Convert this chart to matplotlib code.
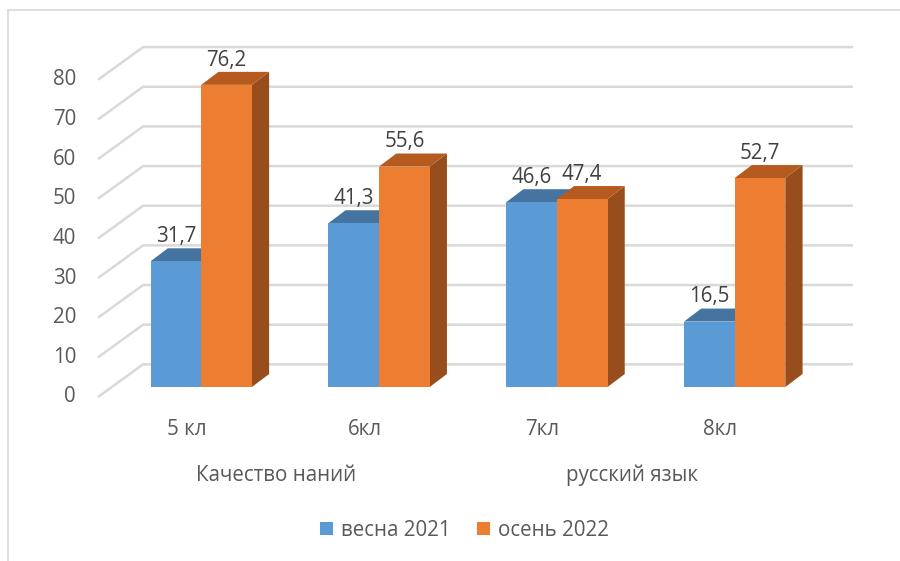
import matplotlib
matplotlib.use("Agg")
import matplotlib.pyplot as plt
from matplotlib.patches import Polygon, Patch
from matplotlib.lines import Line2D

plt.rcParams['font.family'] = ['Open Sans', 'DejaVu Sans']

# data
classes = ['5 кл', '6кл', '7кл', '8кл']
groups = ['Качество наний', 'русский язык']
series = ['весна 2021', 'осень 2022']
spring = [31.7, 41.3, 46.6, 16.5]
autumn = [76.2, 55.6, 47.4, 52.7]
yticks = [0, 10, 20, 30, 40, 50, 60, 70, 80]

front_c = ['#5B9BD5', '#ED7D31']
top_c = ['#4574A1', '#B65B20']
side_c = ['#3E6891', '#984D1C']
grid_c = '#D9D9D9'
tick_c = '#595959'
val_c = '#404040'
FS = 14.8

W = 0.285          # bar width (category units)
BDX, BDY = 0.097, 3.28    # bar depth offset
WDX, WDY = 0.253, 8.24    # wall depth offset
WALL_X = -0.58
WALL_END = 3.666
FRONT = -2.52      # front plane level relative to bar front

fig = plt.figure(figsize=(9, 5.61), dpi=100)
ax = fig.add_axes([0, 0, 1, 1])
ax.set_xlim(-1.1316, 3.930)
ax.set_ylim(-43.88, 97.6)
ax.axis('off')

# chart frame
fig.add_artist(Line2D([8/900, 8/900], [0, 1-10/561], transform=fig.transFigure,
                      color='#D9D9D9', lw=1.2))
fig.add_artist(Line2D([8/900, 1], [1-10/561, 1-10/561], transform=fig.transFigure,
                      color='#D9D9D9', lw=1.2))

# gridlines: diagonal side wall + back wall
for v in yticks:
    y0 = v + FRONT
    ax.plot([WALL_X, WALL_X + WDX, WALL_END], [y0, y0 + WDY, y0 + WDY],
            color=grid_c, lw=1.8, zorder=1, solid_capstyle='butt')
    ax.text(-0.704, y0, str(v), ha='right', va='center',
            fontsize=FS, color=tick_c)

# bars
for s, vals in enumerate([spring, autumn]):
    for i, v in enumerate(vals):
        x0 = i - W + s * W
        x1 = x0 + W
        side = Polygon([(x1, 0), (x1 + BDX, BDY), (x1 + BDX, v + BDY), (x1, v)],
                       closed=True, fc=side_c[s], ec='none', zorder=3)
        top = Polygon([(x0, v), (x1, v), (x1 + BDX, v + BDY), (x0 + BDX, v + BDY)],
                      closed=True, fc=top_c[s], ec='none', zorder=3)
        face = Polygon([(x0, 0), (x1, 0), (x1, v), (x0, v)],
                       closed=True, fc=front_c[s], ec='none', zorder=3)
        for p in (side, top, face):
            ax.add_patch(p)
        ax.text((x0 + x1) / 2, v + BDY + 2.98, f'{v}'.replace('.', ','),
                ha='center', va='center', fontsize=FS, color=val_c, zorder=5)

# category labels
for i, c in enumerate(classes):
    ax.text(i - 0.08, -10.6, c, ha='center', va='center', fontsize=FS, color=tick_c)
for g, name in enumerate(groups):
    ax.text(2 * g + 0.5 - 0.08, -22.2, name, ha='center', va='center',
            fontsize=FS, color=tick_c)

handles = [Patch(fc=front_c[k], ec='none', label=series[k]) for k in range(2)]
fig.legend(handles=handles, loc='center', bbox_to_anchor=(0.516, 1 - 530/561),
           ncol=2, frameon=False, fontsize=FS, handlelength=0.62, handleheight=0.62,
           handletextpad=0.4, columnspacing=1.3, labelcolor=tick_c)

fig.savefig('out.png', dpi=100)
